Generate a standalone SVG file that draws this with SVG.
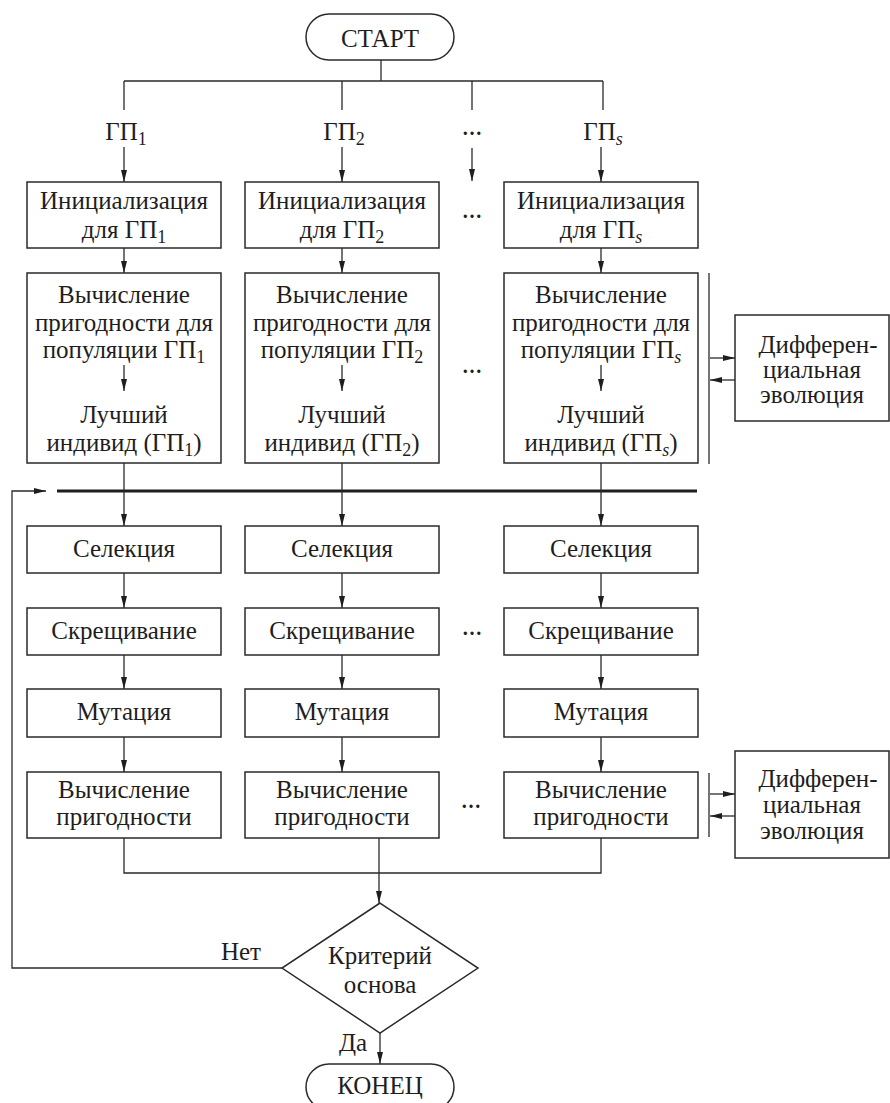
<svg xmlns="http://www.w3.org/2000/svg" width="890" height="1103" viewBox="0 0 890 1103" font-family="Liberation Serif, serif">
<defs>
<style>
text{font-family:"Liberation Serif",serif;font-size:25px;fill:#1e1e1e;text-anchor:middle}
.b{fill:#fff;stroke:#2a2a2a;stroke-width:1.5}
.c{fill:none;stroke:#2a2a2a;stroke-width:1.3}
.a{marker-end:url(#ah)}
.thick{stroke:#1e1e1e;stroke-width:3.2;fill:none}
.sub{font-size:18px}
.dots{font-weight:bold;font-size:20px}
</style>
<marker id="ah" viewBox="0 0 12 8" refX="12" refY="4" markerWidth="12" markerHeight="8" markerUnits="userSpaceOnUse" orient="auto">
<path d="M0,1 L12,4 L0,7 Z" fill="#1e1e1e"/>
</marker>
</defs>

<g id="connectors">
<path class="c" d="M381,60 V81 M124,81 H603 M124,81 V110 M342,81 V110 M472,81 V110 M603,81 V110"/>
<path class="c a" d="M124,147 V182"/>
<path class="c a" d="M342,147 V182"/>
<path class="c a" d="M472,148 V181"/>
<path class="c a" d="M601,147 V182"/>
<path class="c a" d="M124,248 V273"/>
<path class="c a" d="M342,248 V273"/>
<path class="c a" d="M601,248 V273"/>
<path class="c" d="M709,273 V464"/>
<path class="c a" d="M710,358 H735"/>
<path class="c a" d="M735,380 H710"/>
<path class="thick" d="M57,491 H697"/>
<path class="c a" d="M282,968 H12 V491 H46"/>
<path class="c a" d="M124,463 V526"/>
<path class="c a" d="M342,463 V526"/>
<path class="c a" d="M601,463 V526"/>
<path class="c a" d="M124,573 V608"/>
<path class="c a" d="M342,573 V608"/>
<path class="c a" d="M601,573 V608"/>
<path class="c a" d="M124,655 V689"/>
<path class="c a" d="M342,655 V689"/>
<path class="c a" d="M601,655 V689"/>
<path class="c a" d="M124,737 V772"/>
<path class="c a" d="M342,737 V772"/>
<path class="c a" d="M601,737 V772"/>
<path class="c" d="M709,773 V837"/>
<path class="c a" d="M710,794 H735"/>
<path class="c a" d="M735,816 H710"/>
<path class="c" d="M124,838 V873 H601 V838"/>
<path class="c a" d="M379,838 V903"/>
<path class="c a" d="M380,1033 V1064"/>
</g>

<g id="start">
<rect class="b" x="306" y="14" width="148" height="46" rx="23"/>
<text x="380" y="47">СТАРТ</text>
</g>

<g id="labels">
<text x="126" y="140">ГП<tspan class="sub" dy="5">1</tspan></text>
<text x="344" y="140">ГП<tspan class="sub" dy="5">2</tspan></text>
<text class="dots" x="472" y="135">…</text>
<text x="603" y="140">ГП<tspan class="sub" dy="5" font-style="italic">s</tspan></text>
</g>

<g id="init1">
<rect class="b" x="27" y="182" width="194" height="66"/>
<text x="124" y="209">Инициализация</text>
<text x="124" y="238">для ГП<tspan class="sub" dy="5">1</tspan></text>
</g>
<g id="init2">
<rect class="b" x="245" y="182" width="194" height="66"/>
<text x="342" y="209">Инициализация</text>
<text x="342" y="238">для ГП<tspan class="sub" dy="5">2</tspan></text>
</g>
<text class="dots" x="472" y="218">…</text>
<g id="init3">
<rect class="b" x="504" y="182" width="194" height="66"/>
<text x="601" y="209">Инициализация</text>
<text x="601" y="238">для ГП<tspan class="sub" dy="5" font-style="italic">s</tspan></text>
</g>

<g id="eval1">
<rect class="b" x="27" y="273" width="194" height="190"/>
<text x="124" y="303">Вычисление</text>
<text x="124" y="331">пригодности для</text>
<text x="124" y="358">популяции ГП<tspan class="sub" dy="5">1</tspan></text>
<path class="c a" d="M124,365 V391"/>
<text x="124" y="423">Лучший</text>
<text x="124" y="451">индивид (ГП<tspan class="sub" dy="5">1</tspan><tspan dy="-5">)</tspan></text>
</g>
<g id="eval2">
<rect class="b" x="245" y="273" width="194" height="190"/>
<text x="342" y="303">Вычисление</text>
<text x="342" y="331">пригодности для</text>
<text x="342" y="358">популяции ГП<tspan class="sub" dy="5">2</tspan></text>
<path class="c a" d="M342,365 V391"/>
<text x="342" y="423">Лучший</text>
<text x="342" y="451">индивид (ГП<tspan class="sub" dy="5">2</tspan><tspan dy="-5">)</tspan></text>
</g>
<text class="dots" x="472" y="373">…</text>
<g id="eval3">
<rect class="b" x="504" y="273" width="194" height="190"/>
<text x="601" y="303">Вычисление</text>
<text x="601" y="331">пригодности для</text>
<text x="601" y="358">популяции ГП<tspan class="sub" dy="5" font-style="italic">s</tspan></text>
<path class="c a" d="M601,365 V391"/>
<text x="601" y="423">Лучший</text>
<text x="601" y="451">индивид (ГП<tspan class="sub" dy="5" font-style="italic">s</tspan><tspan dy="-5">)</tspan></text>
</g>

<g id="de1">
<rect class="b" x="735" y="315" width="154" height="106"/>
<text x="818" y="353">Дифферен-</text>
<text x="812" y="378">циальная</text>
<text x="812" y="403">эволюция</text>
</g>

<g id="sel1"><rect class="b" x="27" y="526" width="194" height="47"/><text x="124" y="557">Селекция</text></g>
<g id="sel2"><rect class="b" x="245" y="526" width="194" height="47"/><text x="342" y="557">Селекция</text></g>
<g id="sel3"><rect class="b" x="504" y="526" width="194" height="47"/><text x="601" y="557">Селекция</text></g>

<g id="cross1"><rect class="b" x="27" y="608" width="194" height="47"/><text x="124" y="639">Скрещивание</text></g>
<g id="cross2"><rect class="b" x="245" y="608" width="194" height="47"/><text x="342" y="639">Скрещивание</text></g>
<text class="dots" x="472" y="635">…</text>
<g id="cross3"><rect class="b" x="504" y="608" width="194" height="47"/><text x="601" y="639">Скрещивание</text></g>

<g id="mut1"><rect class="b" x="27" y="689" width="194" height="48"/><text x="124" y="720">Мутация</text></g>
<g id="mut2"><rect class="b" x="245" y="689" width="194" height="48"/><text x="342" y="720">Мутация</text></g>
<g id="mut3"><rect class="b" x="504" y="689" width="194" height="48"/><text x="601" y="720">Мутация</text></g>

<g id="fit1"><rect class="b" x="27" y="772" width="194" height="66"/><text x="124" y="798">Вычисление</text><text x="124" y="825">пригодности</text></g>
<g id="fit2"><rect class="b" x="245" y="772" width="194" height="66"/><text x="342" y="798">Вычисление</text><text x="342" y="825">пригодности</text></g>
<text class="dots" x="471" y="808">…</text>
<g id="fit3"><rect class="b" x="504" y="772" width="194" height="66"/><text x="601" y="798">Вычисление</text><text x="601" y="825">пригодности</text></g>

<g id="de2">
<rect class="b" x="735" y="751" width="154" height="107"/>
<text x="818" y="787">Дифферен-</text>
<text x="812" y="813">циальная</text>
<text x="812" y="839">эволюция</text>
</g>

<g id="decision">
<polygon class="b" points="380,903 478,968 380,1033 282,968"/>
<text x="380" y="964">Критерий</text>
<text x="380" y="993">основа</text>
</g>
<text x="241" y="960">Нет</text>
<text x="353" y="1051">Да</text>

<g id="end">
<rect class="b" x="306" y="1064" width="148" height="46" rx="23"/>
<text x="380" y="1094">КОНЕЦ</text>
</g>
</svg>
